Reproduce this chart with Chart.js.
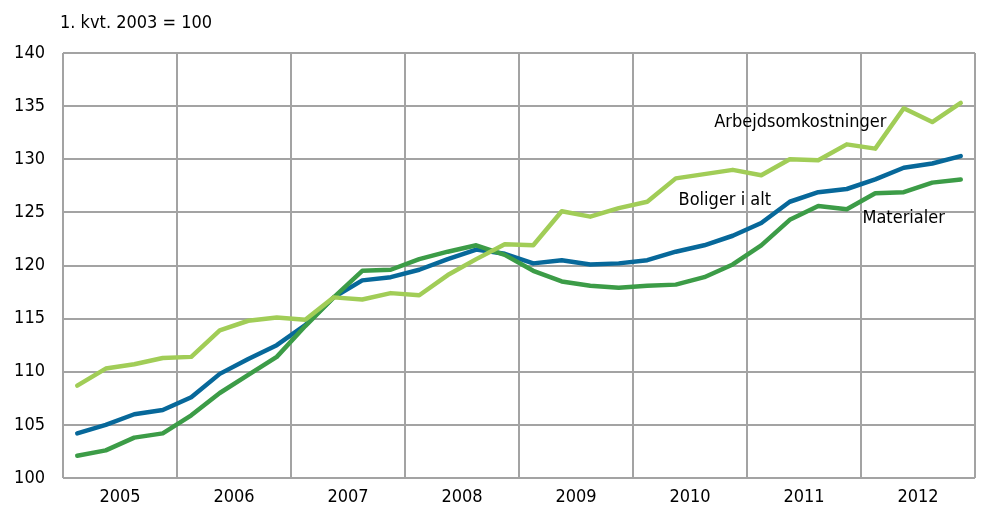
<!DOCTYPE html>
<html lang="da">
<head>
    <meta charset="UTF-8">
    <title>Byggeomkostningsindeks</title>
    <script src="https://cdn.jsdelivr.net/npm/chart.js"></script>
    <style>
        body { margin: 0; background: #fff; }
        .wrap { width: 985px; height: 518px; }
    </style>
</head>
<body>
    <div class="wrap"><canvas id="costChart" width="985" height="518"></canvas></div>

    <script>
        // quarterly index values, 1. kvt. 2005 - 4. kvt. 2012
        const years = ['2005', '2006', '2007', '2008', '2009', '2010', '2011', '2012'];
        const arbejd = [108.7, 110.3, 110.7, 111.3, 111.4, 113.9, 114.8, 115.1, 114.9, 117.0, 116.8, 117.4,
                        117.2, 119.1, 120.6, 122.0, 121.9, 125.1, 124.6, 125.4, 126.0, 128.2, 128.6, 129.0,
                        128.5, 130.0, 129.9, 131.4, 131.0, 134.8, 133.5, 135.3];
        const boliger = [104.2, 105.0, 106.0, 106.4, 107.6, 109.8, 111.2, 112.5, 114.4, 117.0, 118.6, 118.9,
                         119.6, 120.6, 121.5, 121.1, 120.2, 120.5, 120.1, 120.2, 120.5, 121.3, 121.9, 122.8,
                         124.0, 126.0, 126.9, 127.2, 128.1, 129.2, 129.6, 130.3];
        const materialer = [102.1, 102.6, 103.8, 104.2, 105.9, 108.0, 109.7, 111.4, 114.3, 117.0, 119.5, 119.6,
                            120.6, 121.3, 121.9, 121.0, 119.5, 118.5, 118.1, 117.9, 118.1, 118.2, 118.9, 120.1,
                            121.9, 124.3, 125.6, 125.3, 126.8, 126.9, 127.8, 128.1];

        const unitText = '1. kvt. 2003 = 100';
        // series names placed next to the lines (x in quarters from start, y in index)
        const seriesLabels = [
            { text: 'Arbejdsomkostninger', x: 22.85, y: 133.5 },
            { text: 'Boliger i alt', x: 21.6, y: 126.1 },
            { text: 'Materialer', x: 28.05, y: 124.4 }
        ];

        const FONT = "'Liberation Sans Narrow', 'DejaVu Sans Condensed', 'Roboto Condensed', sans-serif";
        const GRID = '#a3a3a3';

        const toPoints = arr => arr.map((v, i) => ({ x: i + 0.5, y: v }));

        const labelPlugin = {
            id: 'labelPlugin',
            afterDraw(chart) {
                const c = chart.ctx;
                const xs = chart.scales.x, ys = chart.scales.y;
                c.save();
                c.fillStyle = '#000';
                c.font = '18px ' + FONT;
                c.textBaseline = 'middle';
                c.textAlign = 'left';
                c.fillText(unitText, 60, 23);
                seriesLabels.forEach(l => {
                    c.fillText(l.text, xs.getPixelForValue(l.x), ys.getPixelForValue(l.y));
                });
                c.restore();
            }
        };

        const ctx = document.getElementById('costChart').getContext('2d');

        new Chart(ctx, {
            type: 'line',
            data: {
                datasets: [
                    { label: 'Arbejdsomkostninger', data: toPoints(arbejd), borderColor: '#a1cd57' },
                    { label: 'Materialer', data: toPoints(materialer), borderColor: '#3c9c47' },
                    { label: 'Boliger i alt', data: toPoints(boliger), borderColor: '#07689a' }
                ]
            },
            options: {
                responsive: false,
                animation: false,
                layout: { padding: { top: 53, right: 10, left: 0, bottom: 0 } },
                elements: {
                    line: { borderWidth: 4.5, tension: 0, borderJoinStyle: 'round', borderCapStyle: 'round' },
                    point: { radius: 0 }
                },
                scales: {
                    x: {
                        type: 'linear',
                        min: 0,
                        max: 32,
                        afterFit(s) { s.height = 40; },
                        ticks: {
                            stepSize: 2,
                            autoSkip: false,
                            maxRotation: 0,
                            padding: 9,
                            color: '#000',
                            font: { family: FONT, size: 18 },
                            callback: v => (v % 4 === 2 ? years[(v - 2) / 4] : '')
                        },
                        grid: {
                            drawTicks: false,
                            lineWidth: 2,
                            color: c => (c.tick && c.tick.value % 4 === 0 ? GRID : 'rgba(0,0,0,0)')
                        },
                        border: { display: false }
                    },
                    y: {
                        min: 100,
                        max: 140,
                        afterFit(s) { s.width = 63; },
                        ticks: {
                            stepSize: 5,
                            padding: 18,
                            color: '#000',
                            font: { family: FONT, size: 18 }
                        },
                        grid: { drawTicks: false, lineWidth: 2, color: GRID },
                        border: { display: false }
                    }
                },
                plugins: {
                    legend: { display: false },
                    tooltip: { enabled: false }
                }
            },
            plugins: [labelPlugin]
        });
    </script>
</body>
</html>
